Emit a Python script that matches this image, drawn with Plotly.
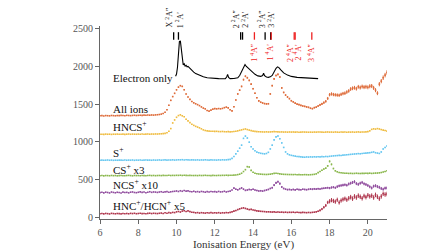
import plotly.graph_objects as go

# ---------------- data ----------------
ENERGY = [round(6.0 + 0.1 * i, 1) for i in range(151)]  # eV grid, 6.0 ... 21.0

ALL_IONS = [
    0, 2, -2, 3, 1, -1, 4, 2, 0, 3,
    2, 5, 3, 1, 6, 4, 2, 5, 7, 4,
    6, 8, 5, 9, 7, 10, 8, 11, 9, 12,
    14, 17, 22, 30, 48, 80, 140, 205, 255, 298,
    345, 380, 400, 390, 345, 290, 250, 218, 190, 172,
    160, 148, 135, 118, 102, 92, 70, 62, 75, 88,
    95, 92, 96, 93, 98, 108, 115, 105, 80, 65,
    120, 210, 290, 340, 390, 480, 525, 505, 470, 420,
    360, 300, 240, 198, 180, 170, 162, 158, 160, 290,
    400, 490, 535, 550, 515, 370, 310, 275, 250, 228,
    200, 185, 168, 155, 148, 138, 130, 125, 118, 112,
    100, 95, 108, 115, 130, 145, 158, 175, 192, 230,
    280, 290, 282, 278, 275, 272, 285, 295, 300, 315,
    330, 355, 365, 372, 360, 385, 375, 388, 380, 385,
    378, 392, 395, 370, 340, 300, 420, 460, 505, 540,
    575,
]
ALL_IONS_ERR = [
    3, 3, 3, 3, 3, 3, 3, 3, 3, 3,
    3, 3, 3, 3, 3, 3, 3, 3, 3, 3,
    3, 3, 4, 3, 4, 3, 4, 4, 3, 4,
    4, 4, 4, 5, 5, 6, 6, 7, 7, 8,
    8, 8, 8, 8, 8, 7, 7, 7, 7, 6,
    6, 6, 6, 6, 6, 6, 6, 6, 6, 6,
    6, 6, 6, 6, 6, 7, 7, 6, 6, 7,
    8, 9, 10, 10, 11, 12, 12, 12, 11, 11,
    10, 10, 9, 9, 9, 9, 9, 9, 9, 10,
    11, 12, 12, 12, 12, 11, 10, 10, 10, 10,
    10, 10, 10, 10, 10, 10, 10, 10, 10, 10,
    10, 10, 11, 12, 13, 14, 15, 16, 18, 20,
    22, 22, 22, 22, 22, 22, 22, 22, 24, 24,
    24, 25, 25, 25, 25, 25, 26, 26, 26, 26,
    26, 27, 27, 27, 27, 26, 28, 28, 30, 30,
    30,
]

HNCS = [
    0, 1, -1, 2, 0, 1, -2, 1, 0, 2,
    1, 0, 2, -1, 1, 3, 0, 2, 1, 0,
    2, 1, 3, 0, 2, 4, 1, 3, 2, 4,
    3, 5, 6, 8, 12, 20, 40, 75, 150, 190,
    225, 248, 258, 245, 232, 200, 178, 155, 132, 118,
    105, 95, 85, 72, 58, 50, 45, 42, 40, 40,
    38, 39, 36, 35, 37, 34, 33, 35, 32, 34,
    36, 40, 45, 52, 58, 65, 70, 62, 55, 48,
    42, 38, 35, 33, 32, 31, 30, 32, 30, 31,
    33, 35, 34, 32, 30, 31, 29, 30, 28, 30,
    29, 30, 28, 29, 27, 28, 30, 29, 28, 27,
    28, 27, 29, 28, 30, 29, 28, 27, 29, 30,
    28, 29, 27, 30, 28, 26, 29, 28, 30, 27,
    29, 28, 30, 27, 29, 31, 28, 30, 29, 31,
    35, 45, 65, 72, 68, 75, 70, 62, 55, 50,
    42,
]
HNCS_ERR = [
    2, 2, 2, 2, 2, 2, 2, 2, 2, 2,
    2, 2, 2, 2, 2, 2, 2, 2, 2, 2,
    2, 2, 2, 2, 2, 2, 2, 2, 2, 2,
    2, 2, 2, 3, 3, 3, 4, 4, 5, 5,
    5, 5, 5, 5, 5, 5, 5, 4, 4, 4,
    4, 4, 4, 3, 3, 3, 3, 3, 3, 3,
    3, 3, 3, 3, 3, 3, 3, 3, 3, 3,
    3, 3, 4, 4, 4, 4, 4, 4, 4, 3,
    3, 3, 3, 3, 3, 3, 3, 3, 3, 3,
    3, 3, 3, 3, 3, 3, 3, 3, 3, 3,
    3, 3, 3, 3, 3, 3, 3, 3, 3, 3,
    3, 3, 3, 3, 3, 3, 3, 3, 3, 3,
    3, 3, 3, 3, 3, 3, 3, 3, 3, 3,
    3, 3, 3, 3, 3, 3, 3, 3, 3, 3,
    4, 4, 5, 5, 5, 5, 5, 5, 5, 5,
    5,
]

S_ION = [
    0, 2, -1, 1, 3, 0, 2, -1, 1, 0,
    2, 1, -1, 3, 0, 2, 1, 3, -1, 2,
    1, 3, 0, 2, 4, 1, 2, 0, 3, 1,
    2, 4, 1, 3, 5, 2, 4, 3, 5, 2,
    4, 6, 5, 7, 4, 6, 5, 3, 5, 4,
    3, 5, 2, 4, 3, 6, 4, 2, 5, 3,
    4, 2, 5, 3, 6, 4, 5, 8, 12, 25,
    50, 85, 120, 160, 200, 290, 320, 295, 240, 180,
    150, 125, 108, 100, 92, 88, 85, 90, 105, 150,
    200, 270, 310, 322, 285, 230, 170, 110, 85, 72,
    65, 60, 55, 50, 48, 45, 42, 40, 44, 42,
    45, 43, 46, 44, 47, 45, 48, 46, 50, 48,
    52, 55, 58, 60, 62, 65, 63, 68, 70, 72,
    75, 78, 80, 83, 85, 88, 86, 90, 92, 95,
    98, 100, 105, 110, 100, 95, 90, 110, 150, 170,
    190,
]
S_ION_ERR = [
    2, 2, 2, 2, 2, 2, 2, 2, 2, 2,
    2, 2, 2, 2, 2, 2, 2, 2, 2, 2,
    2, 2, 2, 2, 2, 2, 2, 2, 2, 2,
    2, 2, 2, 2, 2, 2, 2, 2, 2, 2,
    2, 2, 2, 2, 2, 2, 2, 2, 2, 2,
    2, 2, 2, 2, 2, 2, 2, 2, 2, 2,
    2, 2, 2, 2, 2, 2, 2, 2, 3, 3,
    4, 5, 6, 6, 7, 8, 8, 8, 7, 6,
    6, 5, 5, 5, 5, 5, 5, 5, 5, 6,
    7, 8, 8, 8, 8, 7, 6, 5, 5, 5,
    5, 5, 5, 5, 5, 5, 5, 5, 5, 5,
    5, 5, 5, 5, 5, 5, 5, 5, 5, 5,
    5, 5, 5, 5, 6, 6, 6, 6, 6, 6,
    6, 6, 6, 6, 6, 6, 6, 6, 6, 6,
    6, 6, 6, 6, 6, 6, 6, 7, 8, 8,
    9,
]

CS_X3 = [
    0, 3, -2, 2, 1, -1, 3, 0, 2, -2,
    1, 3, 0, -1, 2, 4, 1, -2, 3, 1,
    2, 0, 3, 1, -1, 2, 4, 1, 3, 0,
    2, 3, 1, 4, 2, 3, 5, 2, 4, 3,
    5, 4, 6, 3, 5, 4, 2, 4, 3, 2,
    3, 1, 4, 2, 3, 5, 2, 3, 1, 4,
    3, 2, 4, 3, 5, 4, 6, 4, 5, 6,
    8, 10, 14, 20, 32, 55, 80, 120, 115, 70,
    45, 32, 26, 22, 20, 18, 17, 16, 18, 20,
    25, 30, 32, 28, 24, 20, 18, 17, 16, 15,
    15, 14, 15, 13, 14, 12, 13, 14, 13, 12,
    13, 15, 18, 24, 40, 55, 72, 88, 100, 130,
    190, 150, 95, 65, 52, 42, 38, 35, 33, 32,
    30, 31, 29, 30, 32, 30, 29, 31, 30, 32,
    31, 33, 30, 32, 34, 35, 38, 42, 48, 55,
    65,
]
CS_X3_ERR = [
    3, 3, 3, 3, 3, 3, 3, 3, 3, 3,
    3, 3, 3, 3, 3, 3, 3, 3, 3, 3,
    3, 3, 3, 3, 3, 3, 3, 3, 3, 3,
    3, 3, 3, 3, 3, 3, 3, 3, 3, 3,
    3, 3, 3, 3, 3, 3, 3, 3, 3, 3,
    3, 3, 3, 3, 3, 3, 3, 3, 3, 3,
    3, 3, 3, 3, 3, 3, 3, 3, 3, 3,
    4, 4, 4, 5, 5, 6, 7, 8, 8, 7,
    6, 5, 5, 5, 5, 5, 5, 5, 5, 5,
    5, 5, 5, 5, 5, 5, 5, 5, 5, 5,
    5, 5, 5, 5, 5, 5, 5, 5, 5, 5,
    5, 5, 5, 6, 6, 7, 8, 9, 10, 12,
    14, 12, 9, 8, 7, 7, 6, 6, 6, 6,
    6, 6, 6, 6, 6, 6, 6, 6, 6, 6,
    6, 6, 6, 6, 6, 6, 6, 6, 6, 6,
    7,
]

NCS_X10 = [
    0, 5, -3, 6, 2, -4, 8, 3, -2, 5,
    2, -5, 7, 1, 4, -3, 6, 9, 2, -1,
    5, 10, 3, 8, -2, 6, 12, 4, 9, 7,
    3, 8, 12, 5, 10, 14, 6, 11, 15, 18,
    22, 15, 25, 18, 28, 20, 24, 16, 12, 18,
    10, 14, 8, 16, 12, 6, 13, 9, 15, 11,
    14, 8, 16, 10, 12, 18, 9, 15, 20, 35,
    60, 45, 38, 52, 62, 45, 30, 35, 42, 38,
    45, 35, 28, 22, 25, 20, 28, 35, 42, 55,
    65, 100, 130, 145, 120, 75, 55, 45, 40, 42,
    38, 42, 36, 44, 40, 38, 45, 42, 39, 44,
    48, 45, 50, 47, 52, 48, 55, 58, 62, 65,
    60, 68, 72, 65, 80, 90, 95, 100, 105, 98,
    115, 125, 135, 145, 120, 110, 125, 135, 118, 108,
    95, 78, 62, 85, 92, 80, 70, 55, 45, 60,
    62,
]
NCS_X10_ERR = [
    4, 4, 4, 4, 4, 4, 4, 4, 4, 4,
    4, 4, 4, 4, 4, 4, 4, 4, 4, 4,
    4, 4, 4, 4, 4, 4, 4, 4, 4, 4,
    4, 4, 4, 4, 4, 4, 4, 4, 4, 4,
    6, 6, 6, 6, 6, 6, 6, 6, 6, 6,
    5, 5, 5, 5, 5, 5, 5, 5, 5, 5,
    5, 5, 5, 5, 5, 5, 5, 5, 5, 5,
    10, 10, 10, 10, 10, 10, 9, 9, 9, 9,
    9, 9, 9, 9, 9, 9, 9, 9, 9, 9,
    12, 14, 15, 15, 14, 12, 10, 10, 10, 10,
    10, 10, 10, 10, 10, 10, 10, 10, 10, 10,
    12, 12, 12, 12, 12, 12, 12, 12, 12, 12,
    15, 15, 15, 15, 18, 18, 18, 18, 18, 18,
    20, 20, 20, 20, 20, 20, 20, 20, 20, 20,
    20, 20, 20, 20, 20, 20, 20, 20, 20, 20,
    20,
]

HNC_X5 = [
    0, 3, -2, 4, 1, -3, 5, 2, -1, 3,
    1, -2, 4, 0, 3, -1, 5, 2, 6, 0,
    3, 6, 1, 4, -1, 5, 7, 2, 6, 4,
    2, 6, 9, 4, 12, 7, 14, 10, 18, 15,
    25, 30, 22, 35, 40, 30, 38, 28, 20, 18,
    12, 15, 9, 14, 11, 8, 13, 10, 15, 9,
    12, 10, 14, 8, 13, 11, 15, 12, 18, 25,
    35, 42, 55, 65, 72, 78, 70, 62, 55, 58,
    50, 45, 38, 35, 32, 30, 28, 25, 26, 24,
    22, 24, 20, 23, 19, 21, 18, 20, 17, 19,
    18, 20, 16, 19, 17, 15, 18, 16, 14, 17,
    15, 18, 20, 25, 32, 45, 62, 85, 110, 150,
    165, 180, 170, 160, 185, 150, 175, 190, 200, 185,
    205, 220, 200, 230, 215, 240, 225, 205, 235, 220,
    245, 230, 240, 215, 250, 225, 200, 230, 265, 255,
    262,
]
HNC_X5_ERR = [
    3, 3, 3, 3, 3, 3, 3, 3, 3, 3,
    3, 3, 3, 3, 3, 3, 3, 3, 3, 3,
    3, 3, 3, 3, 3, 3, 3, 3, 3, 3,
    3, 3, 3, 3, 3, 3, 3, 3, 3, 3,
    5, 5, 5, 5, 5, 5, 5, 5, 5, 5,
    4, 4, 4, 4, 4, 4, 4, 4, 4, 4,
    4, 4, 4, 4, 4, 4, 4, 4, 4, 4,
    8, 8, 8, 8, 8, 8, 8, 8, 8, 8,
    6, 6, 6, 6, 6, 6, 6, 6, 6, 6,
    6, 6, 6, 6, 6, 6, 6, 6, 6, 6,
    6, 6, 6, 6, 6, 6, 6, 6, 6, 6,
    6, 6, 7, 8, 10, 12, 15, 18, 20, 22,
    28, 28, 28, 28, 28, 28, 28, 28, 28, 28,
    30, 30, 30, 30, 30, 30, 30, 30, 30, 30,
    30, 30, 30, 30, 30, 30, 30, 30, 30, 30,
    30,
]

# Electron-only (black line), irregular sampling
ELECTRON_E = [9.95, 10.0, 10.05, 10.1, 10.15, 10.2, 10.25, 10.3, 10.35, 10.4,
              10.45, 10.5, 10.55, 10.6, 10.7, 10.8, 10.9, 11.0, 11.2, 11.4,
              11.6, 11.8, 12.0, 12.2, 12.4, 12.55, 12.62, 12.67, 12.72, 12.8,
              13.0, 13.2, 13.3, 13.4, 13.5, 13.58, 13.65, 13.75, 13.85, 13.95,
              14.1, 14.25, 14.4, 14.5, 14.55, 14.6, 14.7, 14.8, 14.9, 15.0,
              15.1, 15.2, 15.28, 15.35, 15.45, 15.6, 15.8, 16.0, 16.3, 16.6,
              17.0, 17.4]
ELECTRON_Y = [1870, 1900, 1990, 2180, 2330, 2340, 2220, 2060, 2020, 2035,
              2005, 2015, 1995, 2000, 1970, 1945, 1925, 1905, 1880, 1862,
              1850, 1843, 1840, 1838, 1836, 1838, 1860, 1895, 1855, 1838,
              1840, 1850, 1880, 1940, 1990, 2025, 2000, 1975, 1950, 1925,
              1895, 1875, 1868, 1880, 1910, 1878, 1860, 1855, 1862, 1880,
              1930, 1975, 1995, 1985, 1955, 1915, 1885, 1868, 1855, 1848,
              1842, 1838]

SERIES_NAMES = ["All ions", "HNCS<sup>+</sup>", "S<sup>+</sup>", "CS<sup>+</sup> x3",
                "NCS<sup>+</sup> x10", "HNC<sup>+</sup>/HCN<sup>+</sup> x5"]
SERIES_VALUES = [ALL_IONS, HNCS, S_ION, CS_X3, NCS_X10, HNC_X5]
SERIES_ERRORS = [ALL_IONS_ERR, HNCS_ERR, S_ION_ERR, CS_X3_ERR, NCS_X10_ERR, HNC_X5_ERR]
SERIES_OFFSETS = [1345, 1100, 755, 550, 325, 45]
SERIES_COLORS = ["#D95319", "#EDB120", "#4DBEEE", "#77AC30", "#7E2F8E", "#A2142F"]
SERIES_LABEL_Y = [1436, 1213, 866, 644, 446, 161]
ELECTRON_LABEL_Y = 1844

DOUBLET_LABELS = ["X <sup>2</sup>A″", "1 <sup>2</sup>A′", "2 <sup>2</sup>A″",
                  "2 <sup>2</sup>A′", "3 <sup>2</sup>A″", "3 <sup>2</sup>A′"]
DOUBLET_E = [9.85, 10.1, 13.35, 13.45, 14.63, 14.92]
DOUBLET_LABEL_X = [9.58, 10.17, 13.07, 13.6, 14.43, 14.96]
QUARTET_LABELS = ["1 <sup>4</sup>A″", "1 <sup>4</sup>A′", "2 <sup>4</sup>A″",
                  "2 <sup>4</sup>A′", "3 <sup>4</sup>A″"]
QUARTET_E = [14.07, 14.95, 16.15, 16.2, 17.07]
QUARTET_LABEL_X = [14.01, 14.85, 15.9, 16.32, 17.0]

X_TICKS = [6, 8, 10, 12, 14, 16, 18, 20]
Y_TICKS = [0, 500, 1000, 1500, 2000, 2500]

# ---------------- figure ----------------
FONT = "Liberation Serif, DejaVu Serif, serif"
BAR_LO, BAR_HI = 2355, 2455

fig = go.Figure()

fig.add_trace(go.Scatter(x=ELECTRON_E, y=ELECTRON_Y, mode="lines",
                         line=dict(color="black", width=1.1), hoverinfo="skip"))

for vals, errs, off, col in zip(SERIES_VALUES, SERIES_ERRORS, SERIES_OFFSETS, SERIES_COLORS):
    fig.add_trace(go.Scatter(
        x=ENERGY, y=[v + off for v in vals], mode="markers",
        marker=dict(color=col, size=1.6, symbol="square", line=dict(width=0)),
        error_y=dict(type="data", array=errs, visible=True, color=col,
                     thickness=1.0, width=0),
        opacity=0.85,
        hoverinfo="skip"))

def bars(energies):
    xs, ys = [], []
    for e in energies:
        xs += [e, e, None]
        ys += [BAR_LO, BAR_HI, None]
    return xs, ys

bx, by = bars(DOUBLET_E)
fig.add_trace(go.Scatter(x=bx, y=by, mode="lines", line=dict(color="black", width=1.3),
                         hoverinfo="skip"))
qx, qy = bars(QUARTET_E)
fig.add_trace(go.Scatter(x=qx, y=qy, mode="lines", line=dict(color="#EE2222", width=1.3),
                         hoverinfo="skip"))

ann = []
ann.append(dict(x=6.55, y=ELECTRON_LABEL_Y, text="Electron only", xanchor="left",
                yanchor="middle", showarrow=False, font=dict(size=11, color="#111")))
for name, ly in zip(SERIES_NAMES, SERIES_LABEL_Y):
    ann.append(dict(x=6.55, y=ly, text=name, xanchor="left", yanchor="middle",
                    showarrow=False, font=dict(size=11, color="#111")))
for t, lx in zip(DOUBLET_LABELS, DOUBLET_LABEL_X):
    ann.append(dict(x=lx, y=2485, text=t, textangle=-90, xanchor="center",
                    yanchor="bottom", showarrow=False, font=dict(size=8, color="#222")))
for t, lx in zip(QUARTET_LABELS, QUARTET_LABEL_X):
    ann.append(dict(x=lx, y=2330, text=t, textangle=-90, xanchor="center",
                    yanchor="top", showarrow=False, font=dict(size=8, color="#EE2222")))
for a in ann:
    a["xref"] = "x"
    a["yref"] = "y"

fig.update_layout(
    width=448, height=252,
    margin=dict(l=92, r=69, t=18, b=27, pad=0),
    paper_bgcolor="white", plot_bgcolor="white",
    showlegend=False,
    font=dict(family=FONT, size=10, color="#444"),
    annotations=ann,
    xaxis=dict(range=[6, 21], tickvals=X_TICKS, ticks="outside", ticklen=4,
               tickcolor="#666", showline=True, linecolor="#666", linewidth=1,
               showgrid=False, zeroline=False,
               tickfont=dict(size=10, color="#555"),
               title=dict(text="Ionisation Energy (eV)", standoff=2,
                          font=dict(size=11, color="#333"))),
    yaxis=dict(range=[-25, 2537], tickvals=Y_TICKS, ticks="outside", ticklen=4,
               tickcolor="#666", showline=True, linecolor="#666", linewidth=1,
               showgrid=False, zeroline=False,
               tickfont=dict(size=10, color="#555")),
)

fig.write_html("out.html")
